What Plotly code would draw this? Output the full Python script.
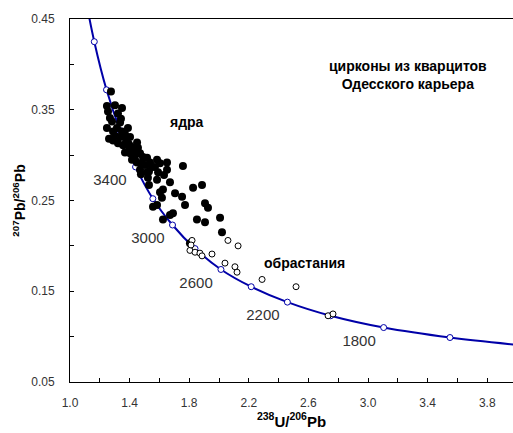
import plotly.graph_objects as go

# Concordia reference points (age Ma, 238U/206Pb, 207Pb/206Pb)
conc_age = [4200, 4000, 3800, 3600, 3400, 3200, 3000, 2800, 2600, 2400, 2200, 2000, 1800, 1600, 1400]
conc_x = [1.089, 1.163, 1.245, 1.337, 1.440, 1.556, 1.688, 1.839, 2.013, 2.216, 2.459, 2.749, 3.105, 3.550, 4.122]
conc_y = [0.486, 0.425, 0.372, 0.327, 0.287, 0.252, 0.223, 0.197, 0.174, 0.155, 0.138, 0.123, 0.110, 0.099, 0.089]

# Cores ("ядра") - filled dots
core_x = [1.275, 1.248, 1.302, 1.349, 1.255, 1.268, 1.322, 1.248, 1.315, 1.389,
          1.302, 1.336, 1.383, 1.403, 1.322, 1.356, 1.416, 1.450, 1.369, 1.403,
          1.436, 1.470, 1.490, 1.416, 1.450, 1.483, 1.517, 1.503, 1.470, 1.517,
          1.550, 1.584, 1.604, 1.651, 1.591, 1.758, 1.523, 1.584, 1.671, 1.624,
          1.705, 1.752, 1.826, 1.886, 1.604, 1.617, 1.772, 1.906, 1.926, 1.557,
          1.584, 1.691, 1.671, 1.624, 1.852, 1.906, 2.007, 2.020, 1.805, 1.651,
          1.282, 1.336, 1.289, 1.349, 1.369, 1.289, 1.376, 1.396, 1.430, 1.456,
          1.396, 1.436, 1.537, 1.570, 1.476, 1.530, 1.530, 1.631, 1.342, 1.262]
core_y = [0.370, 0.354, 0.355, 0.352, 0.348, 0.341, 0.346, 0.330, 0.330, 0.330,
          0.321, 0.320, 0.319, 0.320, 0.313, 0.311, 0.309, 0.314, 0.303, 0.302,
          0.300, 0.302, 0.298, 0.295, 0.292, 0.291, 0.297, 0.289, 0.284, 0.281,
          0.287, 0.295, 0.291, 0.284, 0.281, 0.288, 0.275, 0.273, 0.270, 0.262,
          0.258, 0.254, 0.264, 0.267, 0.259, 0.253, 0.245, 0.247, 0.242, 0.243,
          0.245, 0.236, 0.234, 0.229, 0.229, 0.226, 0.231, 0.215, 0.203, 0.292,
          0.337, 0.336, 0.326, 0.326, 0.323, 0.316, 0.315, 0.312, 0.306, 0.308,
          0.306, 0.295, 0.292, 0.287, 0.279, 0.282, 0.267, 0.278, 0.340, 0.318]

# Overgrowths ("обрастания") - open circles
rim_x = [1.819, 1.805, 1.839, 1.872, 1.886, 1.953, 2.060, 2.128, 2.040, 2.107,
         2.121, 2.289, 2.517, 2.732, 2.765, 1.812]
rim_y = [0.206, 0.195, 0.193, 0.192, 0.189, 0.191, 0.206, 0.200, 0.181, 0.177,
         0.171, 0.163, 0.155, 0.123, 0.125, 0.201]

# Age labels on the concordia
age_lbl = ["3400", "3000", "2600", "2200", "1800"]
age_lbl_x = [1.268, 1.523, 1.846, 2.295, 2.940]
age_lbl_y = [0.271, 0.207, 0.158, 0.123, 0.094]

BLUE = "#0000A8"
FONT = "Liberation Sans, Arial"

fig = go.Figure()

fig.add_trace(go.Scatter(
    x=conc_x, y=conc_y, mode="lines",
    line=dict(color=BLUE, width=2, shape="spline", smoothing=1.0),
    hoverinfo="skip", showlegend=False))

fig.add_trace(go.Scatter(
    x=conc_x[1:-1], y=conc_y[1:-1], mode="markers",
    marker=dict(symbol="circle", size=6, color="white", line=dict(color=BLUE, width=1)),
    text=[str(a) for a in conc_age[1:-1]], showlegend=False))

fig.add_trace(go.Scatter(
    x=core_x, y=core_y, mode="markers",
    marker=dict(symbol="circle", size=8, color="black", line=dict(width=0)),
    showlegend=False))

fig.add_trace(go.Scatter(
    x=rim_x, y=rim_y, mode="markers",
    marker=dict(symbol="circle", size=6, color="white", line=dict(color="black", width=1)),
    showlegend=False))

fig.add_trace(go.Scatter(
    x=age_lbl_x, y=age_lbl_y, mode="text", text=age_lbl,
    textfont=dict(family=FONT, size=15, color="#333333"),
    showlegend=False, hoverinfo="skip"))

fig.add_annotation(x=1.785, y=0.337, text="<b>ядра</b>", showarrow=False,
                   font=dict(family=FONT, size=14, color="black"))
fig.add_annotation(x=2.577, y=0.181, text="<b>обрастания</b>", showarrow=False,
                   font=dict(family=FONT, size=14, color="black"))
fig.add_annotation(x=3.268, y=0.388, text="<b>цирконы из кварцитов<br>Одесского карьера</b>",
                   showarrow=False, align="center",
                   font=dict(family=FONT, size=14, color="black"))

axis_common = dict(
    showgrid=False, zeroline=False, showline=True, linecolor="black", linewidth=1,
    ticks="inside", ticklen=4, tickcolor="black",
    tickfont=dict(family=FONT, size=12, color="#333333"),
)

fig.update_xaxes(
    range=[1.0, 3.973], tick0=1.0, dtick=0.4, tickformat=".1f", mirror=True,
    minor=dict(dtick=0.2, ticks="inside", ticklen=4, tickcolor="black"),
    ticklabelstandoff=10,
    title=dict(text="<b><sup>238</sup>U/<sup>206</sup>Pb</b>",
               font=dict(family=FONT, size=15, color="black"),
               standoff=4),
    **axis_common)
fig.update_yaxes(
    range=[0.05, 0.45], tick0=0.05, dtick=0.1, tickformat=".2f", mirror=False,
    minor=dict(dtick=0.05, ticks="inside", ticklen=4, tickcolor="black"),
    ticklabelstandoff=12,
    title=dict(text="<b><sup>207</sup>Pb/<sup>206</sup>Pb</b>",
               font=dict(family=FONT, size=14, color="black"),
               standoff=2),
    **axis_common)

fig.update_layout(
    width=513, height=433,
    margin=dict(l=70, r=0, t=19, b=51),
    plot_bgcolor="white", paper_bgcolor="white",
    showlegend=False,
)

fig.write_html("out.html")
